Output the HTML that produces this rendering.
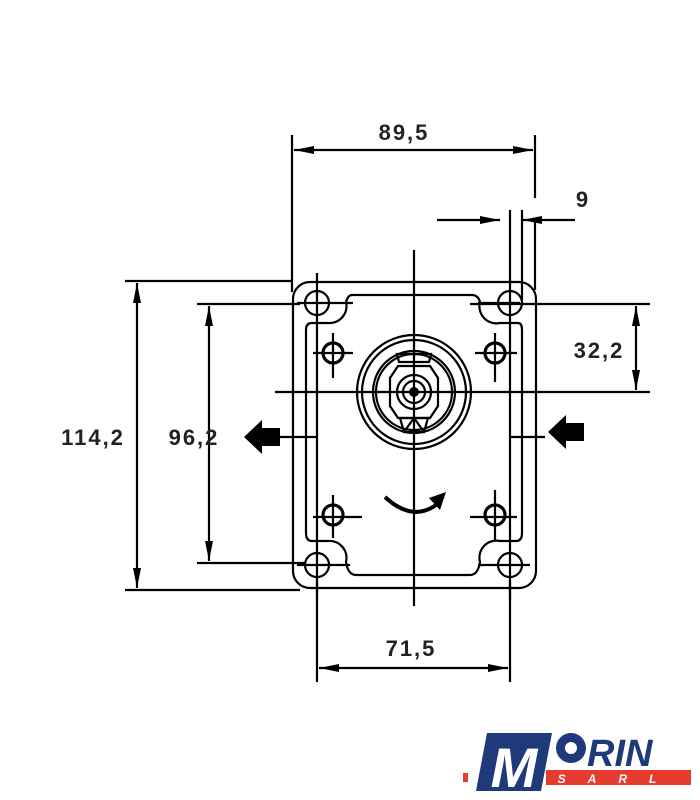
<!DOCTYPE html>
<html><head><meta charset="utf-8"><style>body{margin:0;background:#fff}svg{display:block}</style></head><body>
<svg width="700" height="800" viewBox="0 0 700 800" xmlns="http://www.w3.org/2000/svg">
<defs>
<marker id="a" viewBox="0 0 20 8" refX="20" refY="4" markerWidth="20" markerHeight="8" orient="auto-start-reverse" markerUnits="userSpaceOnUse"><path d="M0,0L20,4L0,8z" fill="#000"/></marker>
</defs>
<g stroke="#000" stroke-width="2.2" fill="none">
<rect x="293" y="282" width="243" height="306" rx="17"/>
<path d="M352,295 H472 Q478,295 480,302 A17,17 0 0 0 500,323 H518 Q522,323 522,330 V533 Q522,541 516,541 H500 A17,17 0 0 0 480,562 Q478,575 470,575 H356 Q348,575 346,562 A17,17 0 0 0 328,541 H312 Q306,541 306,533 V330 Q306,323 312,323 H328 A17,17 0 0 0 346,302 Q348,295 352,295 Z"/>
<circle cx="317" cy="303" r="12"/><circle cx="510" cy="303" r="12"/>
<circle cx="317" cy="565" r="12"/><circle cx="510" cy="565" r="12"/>
<circle cx="333" cy="353" r="10" stroke-width="3.2"/><circle cx="495" cy="353" r="10" stroke-width="3.2"/>
<circle cx="333" cy="515" r="10" stroke-width="3.2"/><circle cx="495" cy="515" r="10" stroke-width="3.2"/>
<path d="M317,273V600M510,210V600M297,303H353M478,303H520M297,565H350M478,565H530"/>
<path d="M313,353H353M475,353H517M333,333V378M495,333V382M313,517H362M470,517H517M333,495V538M495,490V540"/>
<circle cx="414" cy="392" r="57"/><circle cx="414" cy="392" r="52"/><circle cx="414" cy="392" r="41"/><circle cx="414" cy="392" r="38"/>
<path d="M390,378 L398,366 H430 L438,378 V406 L430,418 H398 L390,406 Z"/>
<circle cx="414" cy="392" r="17"/><circle cx="414" cy="392" r="11"/>
<path d="M397,354 L399,362 H429 L431,354 Z"/><path d="M400,418 L428,418 L424,432 H404 Z M404,432 L414,418 L424,432"/>
<path d="M414,250V606M275,392H650"/>
<path d="M292,135V292M535,135V198M535,222V290M125,281H293M125,590H300M197,304H300M470,304H650M197,563H305M522,210V300"/>
<path d="M317,580V682M510,580V682"/>
<path d="M280,437H318M510,437H545"/>
</g>
<circle cx="414" cy="392" r="5" fill="#000"/>
<g stroke="#000" stroke-width="2.2">
<line x1="294" y1="150" x2="533" y2="150" marker-start="url(#a)" marker-end="url(#a)"/>
<line x1="437" y1="220" x2="500" y2="220" marker-end="url(#a)"/>
<line x1="575" y1="220" x2="522" y2="220" marker-end="url(#a)"/>
<line x1="636" y1="306" x2="636" y2="390" marker-start="url(#a)" marker-end="url(#a)"/>
<line x1="137" y1="283" x2="137" y2="588" marker-start="url(#a)" marker-end="url(#a)"/>
<line x1="209" y1="306" x2="209" y2="561" marker-start="url(#a)" marker-end="url(#a)"/>
<line x1="319" y1="668" x2="508" y2="668" marker-start="url(#a)" marker-end="url(#a)"/>
</g>
<path d="M385,497 Q412,522 436,505" stroke="#000" stroke-width="4" fill="none"/>
<path d="M429,498 L446,492 L440,510 Z" fill="#000"/>
<path d="M244,437 L262,420 V428 H280 V446 H262 V454 Z" fill="#000"/>
<path d="M548,432 L566,415 V423 H584 V441 H566 V449 Z" fill="#000"/>
<g font-family="Liberation Sans, sans-serif" font-weight="bold" font-size="22" fill="#222" text-anchor="middle" letter-spacing="2">
<text x="404" y="140">89,5</text>
<text x="583" y="207">9</text>
<text x="599" y="358">32,2</text>
<text x="93" y="445">114,2</text>
<text x="194" y="445">96,2</text>
<text x="411" y="656">71,5</text>
</g>
<rect x="463" y="773" width="5" height="9" fill="#e63c2f"/>
<rect x="546" y="770" width="145" height="15" fill="#e63c2f"/>
<path d="M487,733 H552 L541,791 H476 Z" fill="#1e3a7a"/>
<text x="514" y="787" font-family="Liberation Sans, sans-serif" font-weight="bold" font-style="italic" font-size="56" fill="#fff" text-anchor="middle">M</text>
<circle cx="571" cy="748" r="15" fill="#1e3a7a"/><circle cx="571" cy="748" r="6" fill="#fff"/>
<text x="587" y="766" font-family="Liberation Sans, sans-serif" font-weight="bold" font-style="italic" font-size="38" fill="#1e3a7a">RIN</text>
<text x="618" y="783" font-family="Liberation Sans, sans-serif" font-weight="bold" font-style="italic" font-size="12" fill="#fff" text-anchor="middle" letter-spacing="22">SARL</text>
</svg>
</body></html>
